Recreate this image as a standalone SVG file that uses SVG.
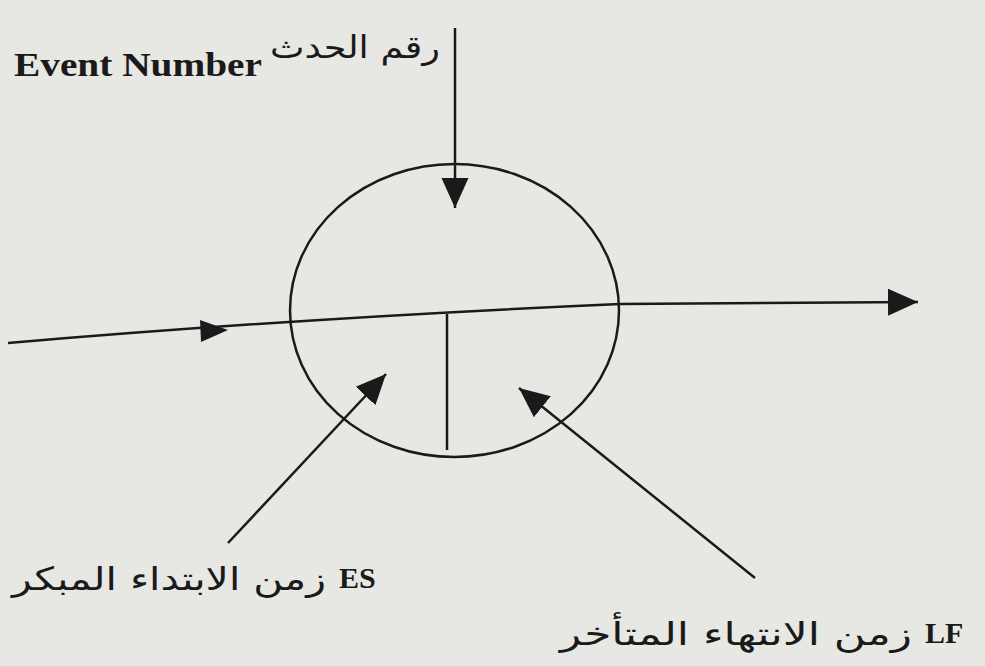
<svg xmlns="http://www.w3.org/2000/svg" width="985" height="666" viewBox="0 0 985 666">
<style>
.ln{fill:none;stroke:#1a1a1a;stroke-width:2.5}
.en{font-family:"Liberation Serif",serif;font-weight:bold;fill:#1a1a1a}
.ar{font-family:"DejaVu Sans","Noto Sans",sans-serif;fill:#1a1a1a}
</style>
<defs>
<marker id="ahb" viewBox="0 0 10 10" refX="10" refY="5" markerWidth="30" markerHeight="30" markerUnits="userSpaceOnUse" orient="auto">
<path d="M0,0.5 L10,5 L0,9.5 z" fill="#1a1a1a"/>
</marker>
</defs>
<rect width="985" height="666" fill="#e7e7e3"/>
<g id="event-node">
<ellipse class="ln" cx="454.5" cy="310.5" rx="164.5" ry="146.5"/>
<line class="ln" x1="447" y1="314" x2="447" y2="450"/>
</g>
<g id="connectors">
<path class="ln" d="M8,343 Q300,318 620,304 L918,302" marker-end="url(#ahb)"/>
<path d="M200,320 L228,330 L201,342 z" fill="#1a1a1a"/>
<line class="ln" x1="455" y1="28" x2="455" y2="208" marker-end="url(#ahb)"/>
<line class="ln" x1="228" y1="543" x2="386" y2="374" marker-end="url(#ahb)"/>
<line class="ln" x1="755" y1="578" x2="519" y2="388" marker-end="url(#ahb)"/>
</g>
<g id="label-event">
<text class="en" x="14" y="76" font-size="34" textLength="248" lengthAdjust="spacingAndGlyphs">Event Number</text>
<text class="ar" x="270" y="58" font-size="31" textLength="170" lengthAdjust="spacingAndGlyphs">رقم الحدث</text>
</g>
<g id="label-es">
<text class="ar" x="12" y="590" font-size="32" textLength="314" lengthAdjust="spacingAndGlyphs">زمن الابتداء المبكر</text>
<text class="en" x="339" y="588" font-size="30">ES</text>
</g>
<g id="label-lf">
<text class="ar" x="560" y="645" font-size="32" textLength="352" lengthAdjust="spacingAndGlyphs">زمن الانتهاء المتأخر</text>
<text class="en" x="925" y="643" font-size="30">LF</text>
</g>
</svg>
